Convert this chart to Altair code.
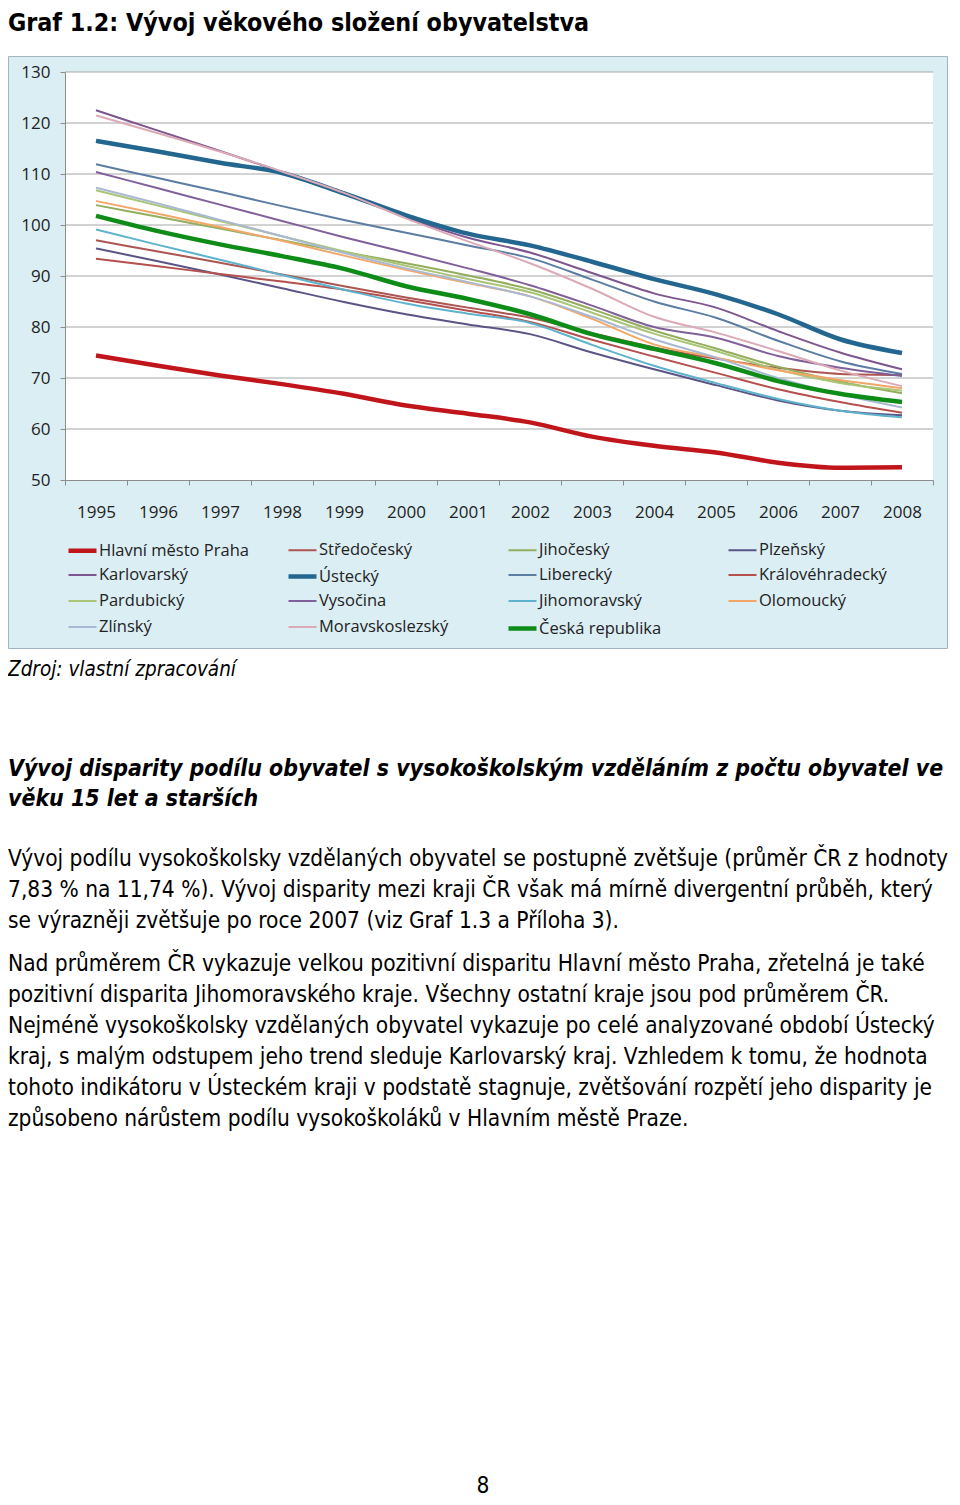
import altair as alt
import pandas as pd

years = [str(y) for y in range(1995, 2009)]

series_names = [
    "Hlavní město Praha", "Středočeský", "Jihočeský", "Plzeňský",
    "Karlovarský", "Ústecký", "Liberecký", "Královéhradecký",
    "Pardubický", "Vysočina", "Jihomoravský", "Olomoucký",
    "Zlínský", "Moravskoslezský", "Česká republika",
]

praha = [74.4, 72.4, 70.5, 68.8, 66.9, 64.6, 63.0, 61.3, 58.5, 56.7, 55.4, 53.4, 52.4, 52.5]
stredocesky = [97.0, 94.8, 92.6, 90.3, 88.0, 85.8, 83.8, 81.8, 78.8, 76.0, 73.8, 72.0, 70.8, 70.6]
jihocesky = [103.9, 101.6, 99.3, 97.0, 94.7, 92.5, 90.1, 87.4, 83.5, 79.3, 75.8, 72.2, 69.3, 67.0]
plzensky = [95.4, 92.9, 90.3, 87.6, 84.9, 82.5, 80.5, 78.6, 75.0, 71.7, 68.6, 65.6, 63.6, 62.7]
karlovarsky = [122.5, 118.5, 114.5, 110.4, 106.3, 101.5, 97.5, 94.6, 90.6, 86.6, 83.8, 79.2, 75.0, 71.7]
ustecky = [116.5, 114.4, 112.2, 110.2, 106.2, 101.9, 98.3, 96.0, 92.8, 89.4, 86.4, 82.5, 77.6, 74.9]
liberecky = [111.9, 109.2, 106.5, 103.7, 101.0, 98.5, 96.0, 93.5, 89.3, 85.0, 81.8, 77.3, 73.3, 70.8]
kralovehradecky = [93.4, 91.9, 90.4, 88.9, 87.3, 85.3, 83.2, 81.0, 77.5, 74.2, 71.0, 67.8, 65.3, 63.2]
pardubicky = [106.8, 103.8, 100.8, 97.8, 94.8, 92.0, 89.4, 86.8, 82.8, 78.7, 75.3, 71.6, 69.0, 67.5]
vysocina = [110.4, 107.2, 104.0, 100.8, 97.6, 94.6, 91.5, 88.2, 84.2, 80.0, 77.9, 74.3, 72.0, 70.4]
jihomoravsky = [99.1, 96.1, 93.2, 90.2, 87.3, 84.6, 82.6, 80.8, 76.5, 72.4, 69.0, 65.9, 63.6, 62.3]
olomoucky = [104.7, 102.2, 99.6, 96.9, 94.0, 91.2, 88.6, 86.0, 81.6, 76.6, 74.0, 71.5, 69.6, 68.0]
zlinsky = [107.3, 104.2, 101.0, 97.8, 94.5, 91.5, 88.8, 86.0, 82.0, 77.6, 74.0, 70.0, 66.8, 64.2]
moravskoslezsky = [121.5, 118.0, 114.4, 110.5, 106.3, 101.3, 96.8, 92.5, 87.5, 82.0, 78.9, 75.3, 71.5, 68.4]
ceska_republika = [101.8, 98.8, 96.2, 93.9, 91.4, 88.0, 85.5, 82.5, 78.6, 75.7, 72.9, 69.4, 66.9, 65.3]

series_values = [
    praha, stredocesky, jihocesky, plzensky, karlovarsky, ustecky, liberecky,
    kralovehradecky, pardubicky, vysocina, jihomoravsky, olomoucky, zlinsky,
    moravskoslezsky, ceska_republika,
]

series_colors = [
    "#C0161B", "#AD5552", "#93AE5E", "#5B5486", "#7D568F", "#23668F", "#5B7DA3",
    "#B5504D", "#A9C575", "#80609A", "#5EB3CC", "#F2A768", "#A9B9D3", "#DCA9B6",
    "#0E8C18",
]
series_widths = [4.5, 2, 2, 2, 2, 4.5, 2, 2, 2, 2, 2, 2, 2, 2, 4.5]

y_ticks = [50, 60, 70, 80, 90, 100, 110, 120, 130]
grid_values = [60, 70, 80, 90, 100, 110, 120, 130]

title_text = "Graf 1.2: Vývoj věkového složení obyvatelstva"
source_text = "Zdroj: vlastní zpracování"
heading_text = ("Vývoj disparity podílu obyvatel s vysokoškolským vzděláním z počtu obyvatel ve\n"
                "věku 15 let a starších")
para1_text = ("Vývoj podílu vysokoškolsky vzdělaných obyvatel se postupně zvětšuje (průměr ČR z hodnoty\n"
              "7,83 % na 11,74 %). Vývoj disparity mezi kraji ČR však má mírně divergentní průběh, který\n"
              "se výrazněji zvětšuje po roce 2007 (viz Graf 1.3 a Příloha 3).")
para2_text = ("Nad průměrem ČR vykazuje velkou pozitivní disparitu Hlavní město Praha, zřetelná je také\n"
              "pozitivní disparita Jihomoravského kraje. Všechny ostatní kraje jsou pod průměrem ČR.\n"
              "Nejméně vysokoškolsky vzdělaných obyvatel vykazuje po celé analyzované období Ústecký\n"
              "kraj, s malým odstupem jeho trend sleduje Karlovarský kraj. Vzhledem k tomu, že hodnota\n"
              "tohoto indikátoru v Ústeckém kraji v podstatě stagnuje, zvětšování rozpětí jeho disparity je\n"
              "způsobeno nárůstem podílu vysokoškoláků v Hlavním městě Praze.")
page_text = "8"

rows = []
for name, vals in zip(series_names, series_values):
    for yr, v in zip(years, vals):
        rows.append({"series": name, "year": yr, "value": v})
df = pd.DataFrame(rows)

CHART_FONT = "Open Sans"
BODY_FONT = "DejaVu Sans Condensed, DejaVu Sans"
one = pd.DataFrame({"a": [0]})

y_scale = alt.Scale(domain=[50, 130], nice=False, zero=False)
y_axis = alt.Axis(title=None, values=y_ticks, tickSize=5, tickColor="#8C8C8C",
                  domainColor="#8C8C8C", labelFont=CHART_FONT, labelFontSize=17,
                  labelColor="#222222", labelPadding=10, grid=False, zindex=1)

# invisible spacer that fixes the top edge of the drawing, so the title is not clipped
spacer = alt.Chart(one).mark_rect(opacity=0).encode(
    x=alt.value(0), x2=alt.value(1), y=alt.value(-64), y2=alt.value(-63)
)
bg = alt.Chart(one).mark_rect(fill="#DBEEF4", stroke="#A3B4C0", strokeWidth=1).encode(
    x=alt.value(-56.5), x2=alt.value(882.5), y=alt.value(-15.5), y2=alt.value(576.5)
)
plot_bg = alt.Chart(one).mark_rect(fill="white").encode(
    x=alt.value(0), x2=alt.value(868), y=alt.value(0), y2=alt.value(408)
)
grid = alt.Chart(pd.DataFrame({"value": grid_values})).mark_rule(color="#A6A6A6", strokeWidth=1).encode(
    y=alt.Y("value:Q", scale=y_scale, axis=y_axis)
)

legend = alt.Legend(
    title=None, orient="none", legendX=1, legendY=462, columns=4, direction="horizontal",
    columnPadding=30, rowPadding=0, symbolType="stroke", symbolSize=784, labelFont=CHART_FONT,
    labelFontSize=16.5, labelColor="#222222", labelOffset=0, gridAlign="all",
    padding=0, labelLimit=300,
)

lines = alt.Chart(df).mark_line(interpolate="monotone").encode(
    x=alt.X("year:O", sort=years, scale=alt.Scale(type="band", paddingInner=0, paddingOuter=0),
            axis=alt.Axis(title=None, labelAngle=0, tickBand="extent", tickSize=5, tickColor="#8C8C8C",
                          domainColor="#8C8C8C", labelFont=CHART_FONT, labelFontSize=17,
                          labelColor="#222222", labelPadding=19, grid=False, zindex=1)),
    y=alt.Y("value:Q", scale=y_scale, axis=y_axis),
    color=alt.Color("series:N", sort=series_names,
                    scale=alt.Scale(domain=series_names, range=series_colors), legend=legend),
    strokeWidth=alt.StrokeWidth("series:N", sort=series_names,
                                scale=alt.Scale(type="ordinal", domain=series_names, range=series_widths),
                                legend=legend),
)

def text_layer(txt, x, y, font, size, weight="normal", style="normal", align="left",
               baseline="alphabetic", line_height=31):
    return alt.Chart(pd.DataFrame({"t": [txt]})).mark_text(
        font=font, fontSize=size, fontWeight=weight, fontStyle=style, align=align,
        baseline=baseline, lineBreak="\n", lineHeight=line_height, color="#000000",
    ).encode(text="t:N", x=alt.value(x), y=alt.value(y))

title = text_layer(title_text, -57, -61, BODY_FONT, 24.8, weight="bold", baseline="top")
source = text_layer(source_text, -57, 604, BODY_FONT, 20.5, style="italic")
heading = text_layer(heading_text, -57, 704, BODY_FONT, 22.9, weight="bold", style="italic", line_height=30)
para1 = text_layer(para1_text, -57, 794, BODY_FONT, 22.5)
para2 = text_layer(para2_text, -57, 899, BODY_FONT, 22.5)
page = text_layer(page_text, 418, 1421, BODY_FONT, 22.5, align="center")

chart = alt.layer(spacer, bg, plot_bg, grid, lines, title, source, heading, para1, para2, page).properties(
    width=868, height=408, padding=0, background="white"
).configure_view(stroke=None)

chart.save("out.html", embed_options={"renderer": "svg", "actions": False})
